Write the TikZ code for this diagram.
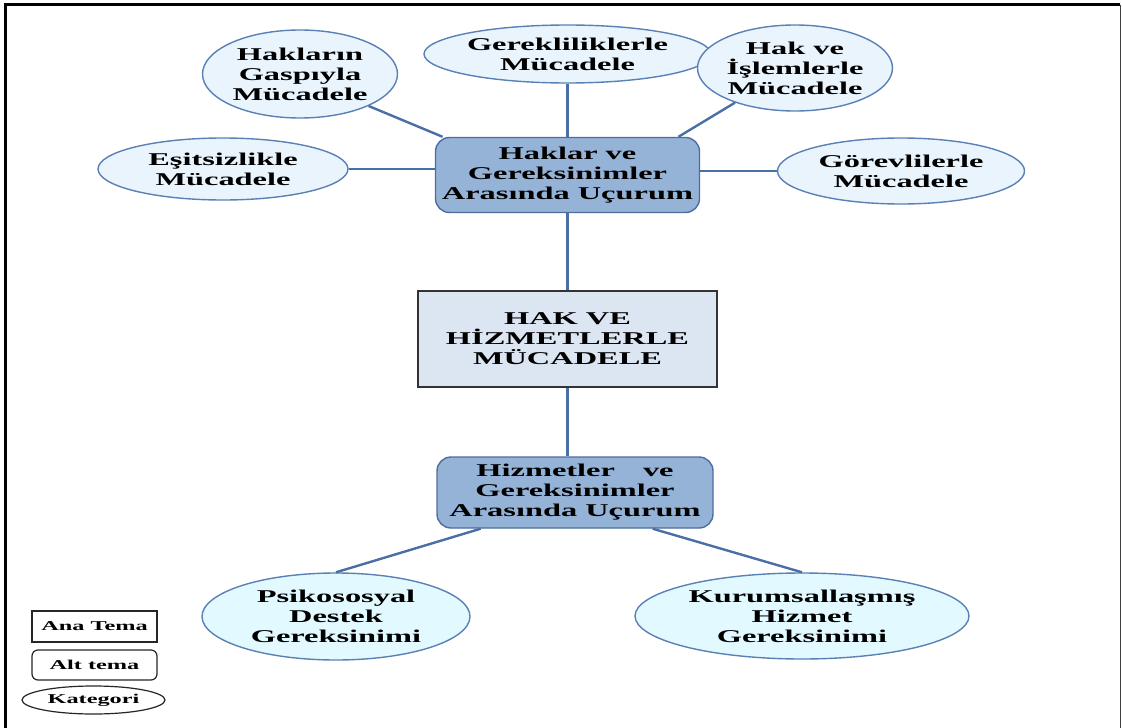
\documentclass[tikz,border=0pt]{standalone}
\usepackage{fontspec}
\setmainfont{Liberation Serif}[FakeStretch=1.8]
\usetikzlibrary{shapes.geometric}
\definecolor{linkblue}{HTML}{4A6FA5}
\definecolor{ellborder}{HTML}{5A80B6}
\definecolor{ellfill}{HTML}{E9F4FD}
\definecolor{ellfillb}{HTML}{E2FAFF}
\definecolor{subborder}{HTML}{4D6D9E}
\definecolor{subfill}{HTML}{95B3D7}
\definecolor{mainfill}{HTML}{DCE6F2}
\begin{document}
\begin{tikzpicture}[x=1pt,y=-1pt,
  txt/.style={align=center, text=black, font=\fontsize{18}{20}\selectfont\bfseries},
  cat/.style={txt, ellipse, draw=ellborder, fill=ellfill, line width=1.4pt, inner sep=0pt},
  subtheme/.style={txt, rectangle, rounded corners=14pt, draw=subborder, fill=subfill, line width=1.4pt, inner sep=0pt},
  maintheme/.style={txt, rectangle, draw=black!80, fill=mainfill, line width=1.6pt, inner sep=0pt},
  link/.style={draw=linkblue, line width=2.4pt},
  legend/.style={draw=black!85, fill=white, line width=1.2pt, inner sep=0pt, text=black,
    font=\fontsize{13.5}{15}\selectfont\bfseries}
]
\useasboundingbox (0,0) rectangle (1122,728);

% frame
\draw[black, line width=3pt] (5.5,728) -- (5.5,4.5) -- (1120,4.5);
\draw[black!75, line width=1.5pt] (1120.5,4.5) -- (1120.5,728);

% sub-themes
\node[subtheme, minimum width=264pt, minimum height=75pt] (top) at (567.5,175) {Haklar ve\\Gereksinimler\\Arasında Uçurum};
\node[subtheme, minimum width=276pt, minimum height=71pt] (bot) at (575,492.5) {Hizmetler\hspace{20pt} ve\\Gereksinimler\\Arasında Uçurum};

% main theme
\node[maintheme, minimum width=299pt, minimum height=96pt] (main) at (567.5,339) {HAK VE\\HİZMETLERLE\\MÜCADELE};

% categories
\node[cat, minimum width=195pt, minimum height=88pt] (hk) at (300,74) {Hakların\\Gaspıyla\\Mücadele};
\node[cat, minimum width=287pt, minimum height=58pt] (gr) at (567.5,54) {Gerekliliklerle\\Mücadele};
\node[cat, minimum width=195pt, minimum height=86pt] (hi) at (795,68) {Hak ve\\İşlemlerle\\Mücadele};
\node[cat, minimum width=250pt, minimum height=62pt] (es) at (223,169) {Eşitsizlikle\\Mücadele};
\node[cat, minimum width=247pt, minimum height=66pt] (gv) at (901,171) {Görevlilerle\\Mücadele};
\node[cat, fill=ellfillb, minimum width=268pt, minimum height=87pt] (ps) at (336,616.5) {Psikososyal\\Destek\\Gereksinimi};
\node[cat, fill=ellfillb, minimum width=334pt, minimum height=86pt] (ku) at (802,616) {Kurumsallaşmış\\Hizmet\\Gereksinimi};

% connectors
\draw[link] (hk.-25) -- (top.163);
\draw[link] (gr.south) -- (top.north);
\draw[link] (hi.210) -- (top.19);
\draw[link] (es.east) -- (es.east -| top.west);
\draw[link] (top.east |- gv.west) -- (gv.west);
\draw[link] (top.south) -- (main.north);
\draw[link] (main.south) -- (main.south |- bot.north);
\draw[link] (bot.201) -- (ps.north);
\draw[link] (bot.-25) -- (ku.north);

% legend
\node[legend, rectangle, minimum width=125pt, minimum height=31pt] (lgmain) at (94.5,626.5) {Ana Tema};
\node[legend, rectangle, rounded corners=6pt, minimum width=125pt, minimum height=30pt] (lgsub) at (94.5,665) {Alt tema};
\node[legend, ellipse, minimum width=143pt, minimum height=28pt] (lgcat) at (93.5,700) {Kategori};
\end{tikzpicture}
\end{document}
